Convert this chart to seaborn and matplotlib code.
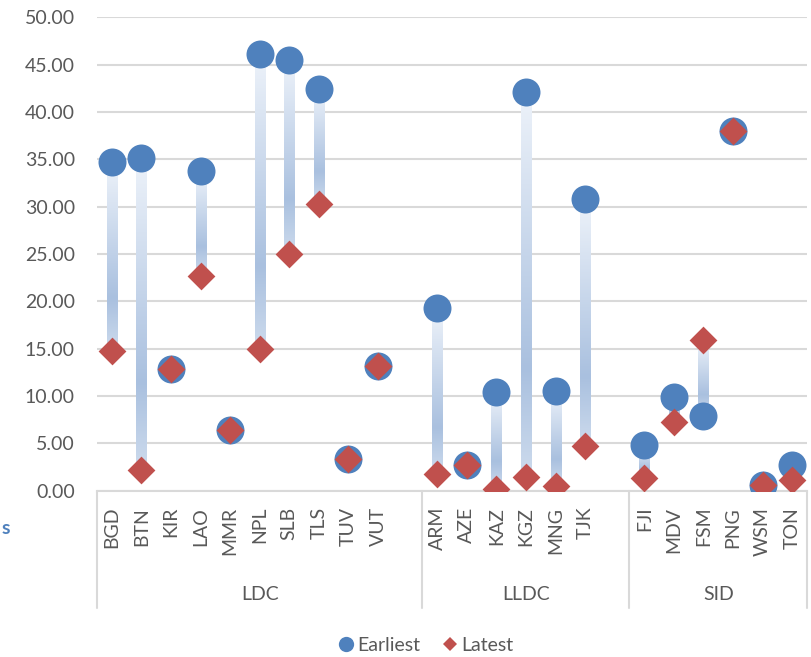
import numpy as np
import pandas as pd
import matplotlib
matplotlib.use("Agg")
import matplotlib.pyplot as plt
from matplotlib.colors import LinearSegmentedColormap
from matplotlib.lines import Line2D
import matplotlib.transforms as mtransforms
import seaborn as sns

# Country groups and their members
groups = ["LDC", "LLDC", "SID"]
ldc_codes = ["BGD", "BTN", "KIR", "LAO", "MMR", "NPL", "SLB", "TLS", "TUV", "VUT"]
lldc_codes = ["ARM", "AZE", "KAZ", "KGZ", "MNG", "TJK"]
sid_codes = ["FJI", "MDV", "FSM", "PNG", "WSM", "TON"]

# Earliest and latest observed values per country
ldc_earliest = [34.75, 35.17, 12.86, 33.77, 6.42, 46.09, 45.56, 42.46, 3.32, 13.21]
ldc_latest = [14.79, 2.20, 12.86, 22.68, 6.42, 14.94, 25.05, 30.25, 3.32, 13.21]
lldc_earliest = [19.27, 2.72, 10.47, 42.14, 10.57, 30.78]
lldc_latest = [1.77, 2.72, 0.15, 1.42, 0.50, 4.76]
sid_earliest = [4.84, 9.94, 7.93, 37.99, 0.61, 2.72]
sid_latest = [1.39, 7.23, 15.92, 37.99, 0.61, 1.14]

y_ticks = [0, 5, 10, 15, 20, 25, 30, 35, 40, 45, 50]

BLUE = "#4f81bd"
RED = "#c0504d"
TEXT = "#595959"
GRID = "#d9d9d9"

# Long-form table; each group is followed by one empty slot on the axis
rows = []
group_spans = []
pos = 0
members = [ldc_codes, lldc_codes, sid_codes]
earl = [ldc_earliest, lldc_earliest, sid_earliest]
late = [ldc_latest, lldc_latest, sid_latest]
for gi, g in enumerate(groups):
    start = pos
    for c, e, l in zip(members[gi], earl[gi], late[gi]):
        rows.append({"group": g, "code": c, "pos": pos, "Earliest": e, "Latest": l})
        pos += 1
    if gi < len(groups) - 1:
        pos += 1
    group_spans.append((start - 0.5, pos - 0.5))
df = pd.DataFrame(rows)
n_slots = pos

sns.set_theme(style="white")
plt.rcParams["font.family"] = ["Lato", "DejaVu Sans"]

fig = plt.figure(figsize=(8.12, 6.57), dpi=100)
ax = fig.add_axes([0.1195, 0.2530, 0.8743, 0.7204])

# Gradient connectors between earliest and latest values
cmap = LinearSegmentedColormap.from_list(
    "conn", [(0.0, "#eef3fa"), (0.72, "#a9c0df"), (1.0, "#cddbed")])
grad = cmap(np.linspace(0, 1, 256))[:, None, :]
half_w = 0.17
for _, r in df.iterrows():
    lo, hi = sorted([r["Earliest"], r["Latest"]])
    if hi - lo > 1e-9:
        ax.imshow(grad, extent=(r["pos"] - half_w, r["pos"] + half_w, lo, hi),
                  origin="upper", aspect="auto", zorder=2, interpolation="bilinear")

sns.scatterplot(data=df, x="pos", y="Earliest", marker="o", s=406, color=BLUE,
                linewidth=0, zorder=3, ax=ax, legend=False)
sns.scatterplot(data=df, x="pos", y="Latest", marker="D", s=200, color=RED,
                linewidth=0, zorder=4, ax=ax, legend=False)

ax.set_xlim(-0.5, n_slots - 0.5)
ax.set_ylim(0, 50)
ax.set_yticks(y_ticks)
ax.set_yticklabels([f"{v:.2f}" for v in y_ticks], fontsize=14, color=TEXT)
ax.set_xticks(df["pos"])
ax.set_xticklabels(df["code"], rotation=90, fontsize=14, color=TEXT)
ax.tick_params(axis="y", length=0, pad=16)
ax.tick_params(axis="x", length=0, pad=11.5)
ax.set_xlabel("")
ax.set_ylabel("")

ax.yaxis.grid(True, color=GRID, linewidth=1.5)
ax.set_axisbelow(True)
for side in ["top", "right", "left"]:
    ax.spines[side].set_visible(False)
ax.spines["bottom"].set_color(GRID)
ax.spines["bottom"].set_linewidth(1.5)

# Group separators and group names beneath the category labels
trans = mtransforms.blended_transform_factory(ax.transData, ax.transAxes)
edges = sorted({e for span in group_spans for e in span})
for e in edges:
    ax.plot([e, e], [0, -0.247], transform=trans, color=GRID, lw=1.5,
            clip_on=False, zorder=1)
for g, (a, b) in zip(groups, group_spans):
    ax.text((a + b) / 2, -0.220, g, transform=trans, ha="center", va="center",
            fontsize=14, color=TEXT)

# Legend
handles = [
    Line2D([], [], marker="o", linestyle="", markersize=11, markerfacecolor=BLUE,
           markeredgewidth=0, label="Earliest"),
    Line2D([], [], marker="D", linestyle="", markersize=7, markerfacecolor=RED,
           markeredgewidth=0, label="Latest"),
]
leg = fig.legend(handles=handles, loc="center", bbox_to_anchor=(0.523, 0.018),
                 ncol=2, frameon=False, fontsize=14, handletextpad=0.1,
                 columnspacing=1.0, handlelength=1.0)
for t in leg.get_texts():
    t.set_color(TEXT)

fig.text(0.0015, 1 - 528 / 657, "s", ha="left", va="center", fontsize=14,
         fontweight="bold", color=BLUE)

fig.savefig("out.png", dpi=100)
